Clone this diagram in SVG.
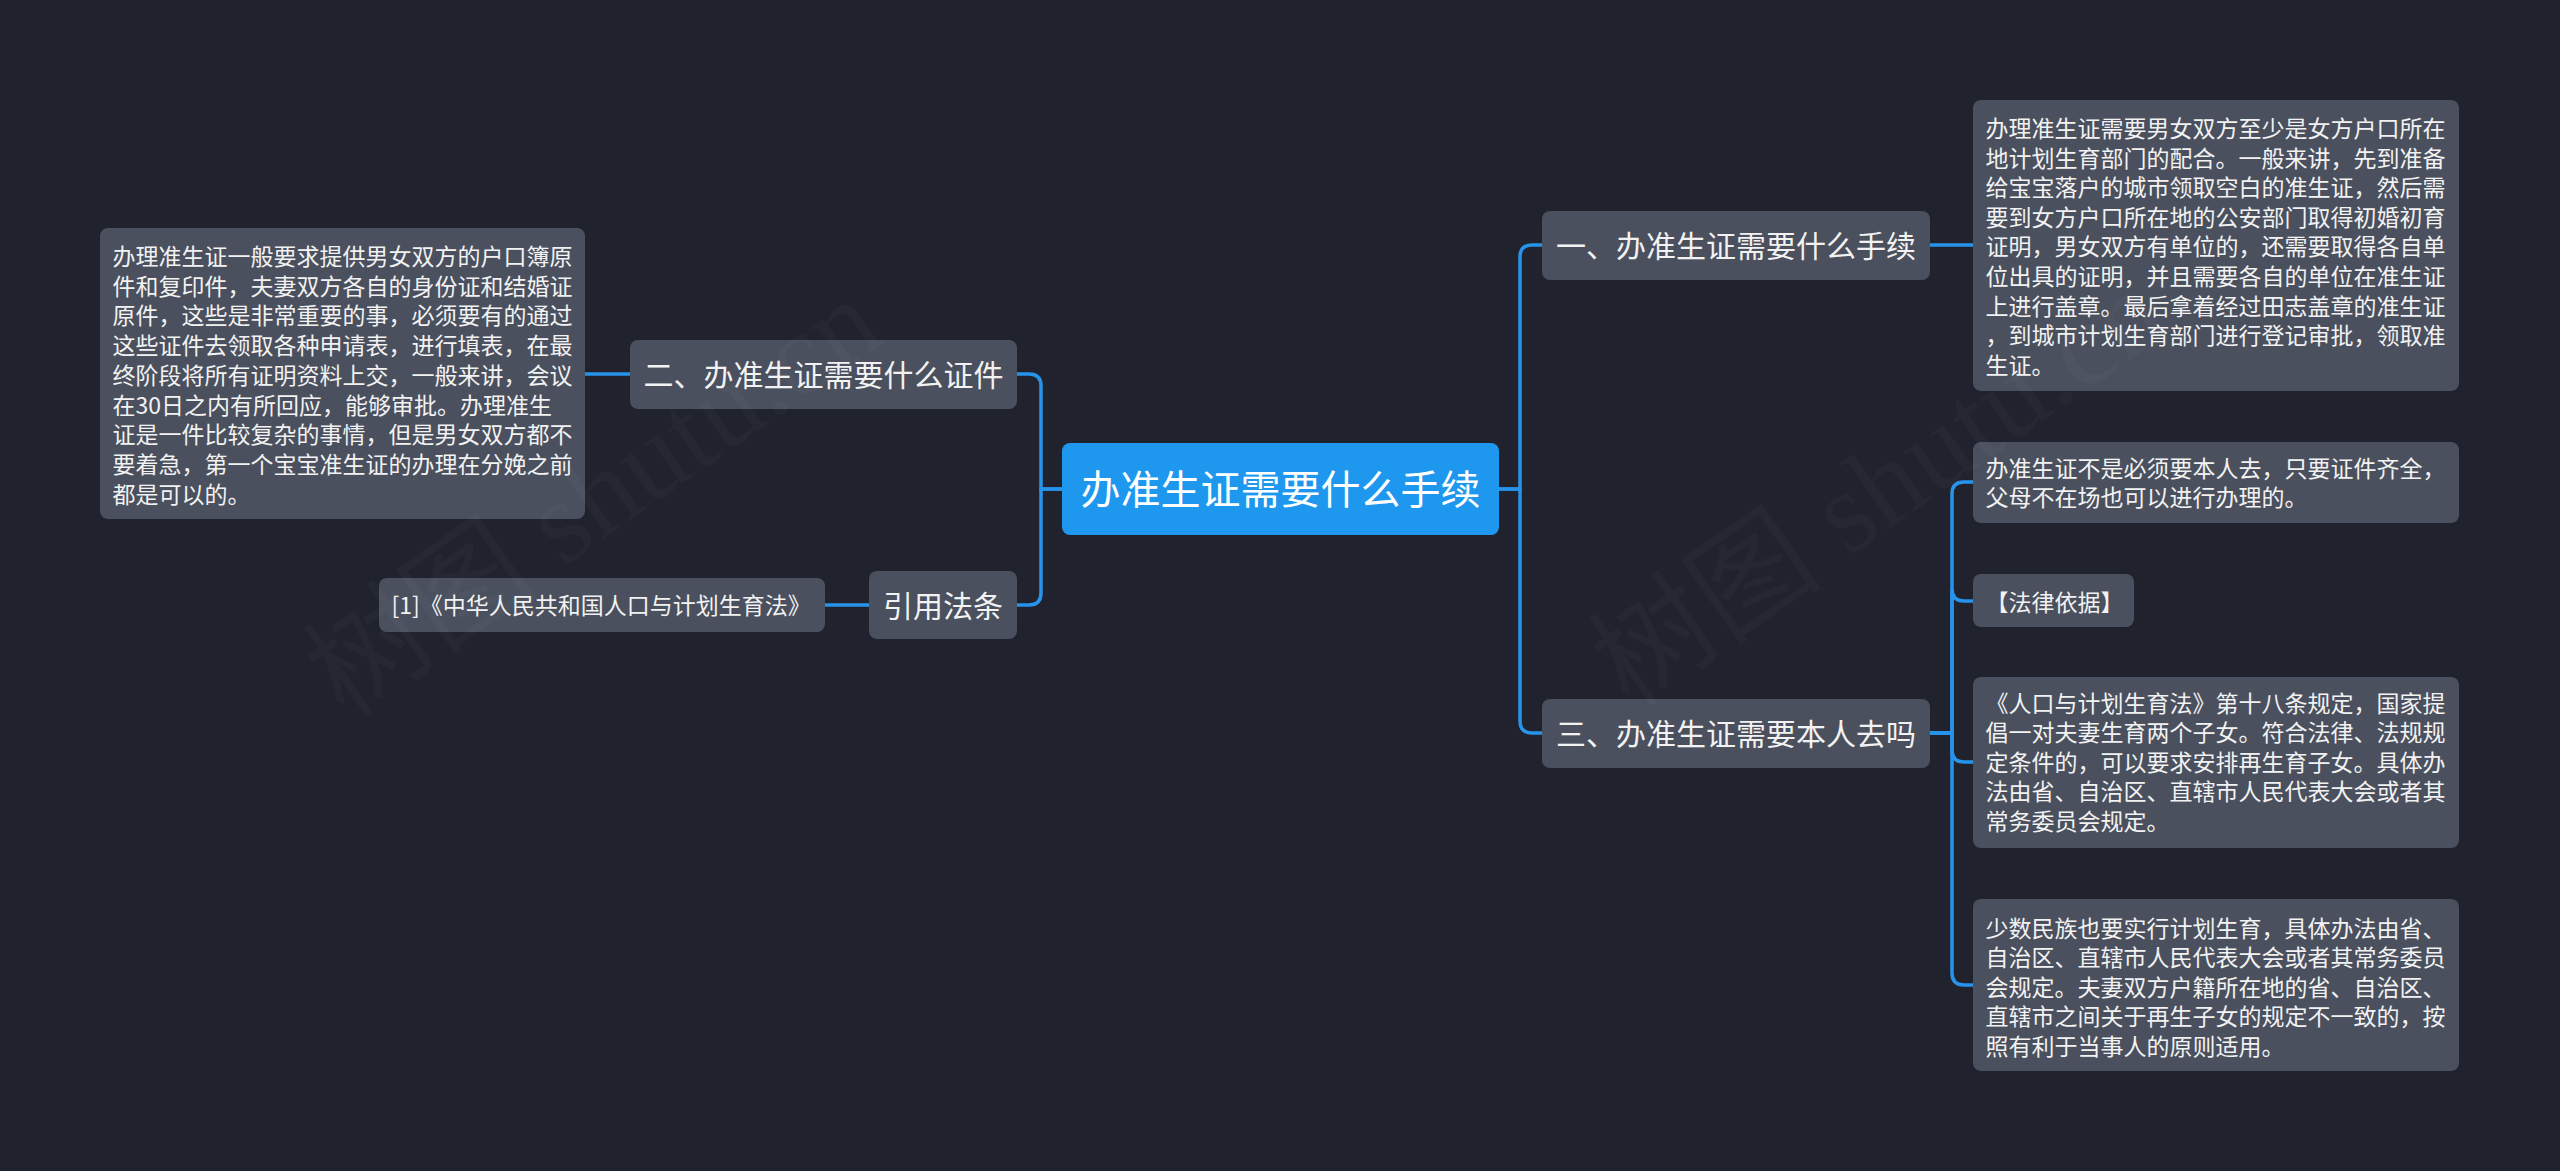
<svg xmlns="http://www.w3.org/2000/svg" width="2560" height="1171" viewBox="0 0 2560 1171">
<style>
.bg{fill:#20232e}
.node{fill:#4a505e}
.root{fill:#1e97ee}
.t{font-family:"Noto Sans CJK SC","Noto Sans",sans-serif;fill:#f2f2f2}
.t40{font-size:40px;fill:#ffffff}
.t30{font-size:30px}
.t23{font-size:23px}
.mid{text-anchor:middle}
.conn path{fill:none;stroke:#2793ea;stroke-width:3.5}
.wm{font-family:"Liberation Serif","Noto Sans CJK SC",serif;font-size:118px;fill:#ffffff;fill-opacity:0.025}
</style>
<rect class="bg" x="0" y="0" width="2560" height="1171"/>

<g id="connectors" class="conn">
<path d="M1499 489 H1520 V257 Q1520 245 1532 245 H1542"/>
<path d="M1499 489 H1520 V721 Q1520 733 1532 733 H1542"/>
<path d="M1062 489 H1041 V386 Q1041 374 1029 374 H1017"/>
<path d="M1062 489 H1041 V593 Q1041 605 1029 605 H1017"/>
<path d="M1930 245 H1973"/>
<path d="M1930 733 H1952 V494 Q1952 482 1964 482 H1973"/>
<path d="M1930 733 H1952 V589 Q1952 601 1964 601 H1973"/>
<path d="M1930 733 H1952 V750 Q1952 762 1964 762 H1973"/>
<path d="M1930 733 H1952 V973 Q1952 985 1964 985 H1973"/>
<path d="M630 374 H585"/>
<path d="M869 605 H825"/>
</g>

<g id="root">
<rect class="root" x="1062" y="443" width="437" height="92" rx="8"/>
<text class="t t40 mid" x="1280.5" y="504">办准生证需要什么手续</text>
</g>

<g id="n1">
<rect class="node" x="1542" y="211" width="388" height="69" rx="8"/>
<text class="t t30 mid" x="1736" y="256.5">一、办准生证需要什么手续</text>
</g>

<g id="n3">
<rect class="node" x="1542" y="699" width="388" height="69" rx="8"/>
<text class="t t30 mid" x="1736" y="745">三、办准生证需要本人去吗</text>
</g>

<g id="n2">
<rect class="node" x="630" y="340" width="387" height="69" rx="8"/>
<text class="t t30 mid" x="823.5" y="386">二、办准生证需要什么证件</text>
</g>

<g id="n4">
<rect class="node" x="869" y="571" width="148" height="68" rx="8"/>
<text class="t t30 mid" x="943" y="616.5">引用法条</text>
</g>

<g id="n4a">
<rect class="node" x="379" y="578" width="446" height="54" rx="8"/>
<text class="t t23" x="391.5" y="613.5">[1]《中华人民共和国人口与计划生育法》</text>
</g>

<g id="n2a">
<rect class="node" x="100" y="228" width="485" height="291" rx="8"/>
<text class="t t23" x="112.5">
<tspan x="112.5" y="265">办理准生证一般要求提供男女双方的户口簿原</tspan>
<tspan x="112.5" y="294.7">件和复印件，夫妻双方各自的身份证和结婚证</tspan>
<tspan x="112.5" y="324.4">原件，这些是非常重要的事，必须要有的通过</tspan>
<tspan x="112.5" y="354.1">这些证件去领取各种申请表，进行填表，在最</tspan>
<tspan x="112.5" y="383.8">终阶段将所有证明资料上交，一般来讲，会议</tspan>
<tspan x="112.5" y="413.5">在30日之内有所回应，能够审批。办理准生</tspan>
<tspan x="112.5" y="443.2">证是一件比较复杂的事情，但是男女双方都不</tspan>
<tspan x="112.5" y="472.9">要着急，第一个宝宝准生证的办理在分娩之前</tspan>
<tspan x="112.5" y="502.6">都是可以的。</tspan>
</text>
</g>

<g id="n1a">
<rect class="node" x="1973" y="100" width="486" height="291" rx="8"/>
<text class="t t23">
<tspan x="1985.5" y="137">办理准生证需要男女双方至少是女方户口所在</tspan>
<tspan x="1985.5" y="166.6">地计划生育部门的配合。一般来讲，先到准备</tspan>
<tspan x="1985.5" y="196.2">给宝宝落户的城市领取空白的准生证，然后需</tspan>
<tspan x="1985.5" y="225.8">要到女方户口所在地的公安部门取得初婚初育</tspan>
<tspan x="1985.5" y="255.4">证明，男女双方有单位的，还需要取得各自单</tspan>
<tspan x="1985.5" y="285">位出具的证明，并且需要各自的单位在准生证</tspan>
<tspan x="1985.5" y="314.6">上进行盖章。最后拿着经过田志盖章的准生证</tspan>
<tspan x="1985.5" y="344.2">，到城市计划生育部门进行登记审批，领取准</tspan>
<tspan x="1985.5" y="373.8">生证。</tspan>
</text>
</g>

<g id="n3a">
<rect class="node" x="1973" y="442" width="486" height="81" rx="8"/>
<text class="t t23">
<tspan x="1985.5" y="476.7">办准生证不是必须要本人去，只要证件齐全，</tspan>
<tspan x="1985.5" y="506.3">父母不在场也可以进行办理的。</tspan>
</text>
</g>

<g id="n3b">
<rect class="node" x="1973" y="574" width="161" height="53" rx="8"/>
<text class="t t23" x="1985.5" y="610.5">【法律依据】</text>
</g>

<g id="n3c">
<rect class="node" x="1973" y="677" width="486" height="171" rx="8"/>
<text class="t t23">
<tspan x="1985.5" y="711.5">《人口与计划生育法》第十八条规定，国家提</tspan>
<tspan x="1985.5" y="741.1">倡一对夫妻生育两个子女。符合法律、法规规</tspan>
<tspan x="1985.5" y="770.7">定条件的，可以要求安排再生育子女。具体办</tspan>
<tspan x="1985.5" y="800.3">法由省、自治区、直辖市人民代表大会或者其</tspan>
<tspan x="1985.5" y="829.9">常务委员会规定。</tspan>
</text>
</g>

<g id="n3d">
<rect class="node" x="1973" y="899" width="486" height="172" rx="8"/>
<text class="t t23">
<tspan x="1985.5" y="936.5">少数民族也要实行计划生育，具体办法由省、</tspan>
<tspan x="1985.5" y="966.1">自治区、直辖市人民代表大会或者其常务委员</tspan>
<tspan x="1985.5" y="995.7">会规定。夫妻双方户籍所在地的省、自治区、</tspan>
<tspan x="1985.5" y="1025.3">直辖市之间关于再生子女的规定不一致的，按</tspan>
<tspan x="1985.5" y="1054.9">照有利于当事人的原则适用。</tspan>
</text>
</g>

<g id="watermark">
<text class="wm" x="345" y="720" transform="rotate(-35 345 720)">树图 shutu.cn</text>
<text class="wm" x="1630" y="710" transform="rotate(-35 1630 710)">树图 shutu.cn</text>
</g>
</svg>
